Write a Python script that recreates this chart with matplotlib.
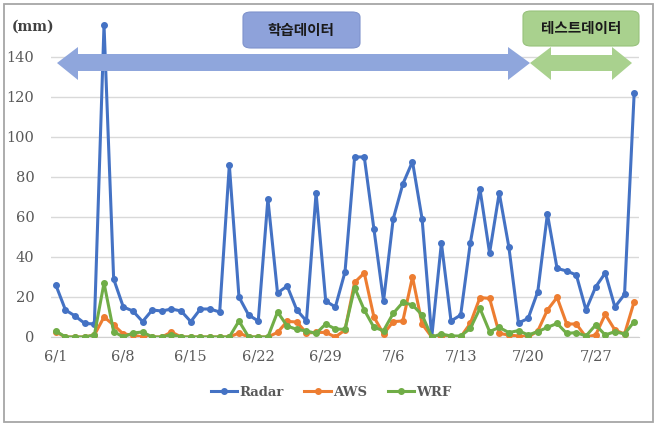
import numpy as np
import matplotlib
matplotlib.use("Agg")
import matplotlib.pyplot as plt
from matplotlib.patches import FancyBboxPatch, Polygon, Rectangle

# daily values 6/1 .. 7/31 (mm)
dates = [f"6/{d}" for d in range(1, 31)] + [f"7/{d}" for d in range(1, 32)]
radar = [26, 13.5, 10.5, 6.8, 6.5, 156, 29, 15, 13, 7.7,
         13.5, 13, 14, 13, 7.7, 14, 14, 12.5, 86, 20,
         11, 8, 69, 22, 25.5, 13.5, 8, 72, 18, 15,
         32.5, 90, 90, 54, 18, 59, 76.5, 87.7, 59, 0,
         47, 8, 11, 47, 74, 42, 72, 45, 7, 9.3,
         22.7, 61.5, 34.3, 33, 31, 13.5, 25, 32, 15, 21.3,
         122]
aws = [2.5, 0, 0, 0, 1, 10, 6, 1.5, 1, 0,
       0, 0, 2.5, 0, 0, 0, 0, 0, 0, 2,
       0, 0, 0, 2.3, 7.8, 7.5, 2, 2.3, 2.3, 0,
       3.5, 27.3, 32, 10, 1.5, 7.7, 8, 30, 6.5, 0,
       0, 0, 0, 6.8, 19.7, 19.3, 1.8, 1, 0.5, 0,
       3, 13.5, 19.8, 6.5, 6.5, 0, 1, 11.3, 3.5, 1.5,
       17.7]
wrf = [3, 0, 0, 0, 1, 27, 2.7, 0, 2, 2.5,
       0, 0, 1.2, 0, 0, 0, 0, 0, 0, 8,
       0, 0, 0, 12.5, 5.5, 3.8, 3, 1.8, 6.5, 4,
       3.8, 24.7, 13.5, 4.8, 3.2, 11.8, 17.3, 16, 11, 0,
       1.5, 0.5, 0.5, 4.3, 14.3, 2.7, 4.8, 2.2, 3.2, 1,
       2.7, 4.8, 6.8, 1.8, 2.2, 0.5, 6, 1, 2.7, 1.5,
       7.7]
yticks = [0, 20, 40, 60, 80, 100, 120, 140]

W, H = 660, 428
fig = plt.figure(figsize=(W / 100, H / 100), dpi=100)
ax = fig.add_axes([51 / W, 1 - 337 / H, (639 - 51) / W, 320 / H])

x = np.arange(len(dates))
serif = "DejaVu Serif"
ax.plot(x, radar, color="#4472C4", lw=2.2, marker="o", ms=4, label="Radar", zorder=3)
ax.plot(x, aws, color="#ED7D31", lw=2.2, marker="o", ms=4, label="AWS", zorder=4)
ax.plot(x, wrf, color="#70AD47", lw=2.2, marker="o", ms=4, label="WRF", zorder=5)

ax.set_xlim(-0.5, len(dates) - 0.5)
ax.set_ylim(0, 160)
ax.set_yticks(yticks)
ax.set_xticks(x[::7])
ax.set_xticklabels(dates[::7])
ax.grid(axis="y", color="#D9D9D9", lw=1)
ax.set_axisbelow(True)
for s in ["top", "right", "left"]:
    ax.spines[s].set_visible(False)
ax.spines["bottom"].set_color("#D0D0D0")
ax.tick_params(length=0, labelsize=10.5, labelcolor="#595959")
ax.tick_params(axis="y", pad=12)
ax.tick_params(axis="x", pad=9)
for lab in ax.get_xticklabels() + ax.get_yticklabels():
    lab.set_family(serif)

leg = ax.legend(loc="center", bbox_to_anchor=(331 / W, 1 - 392 / H),
                bbox_transform=fig.transFigure, ncol=3, frameon=False,
                prop={"family": serif, "size": 9.5, "weight": "bold"},
                handlelength=2.0, columnspacing=1.6, handletextpad=0.15)
for t in leg.get_texts():
    t.set_color("#595959")

fig.text(12 / W, 1 - 27 / H, "(mm)", family=serif, size=10, color="#404040",
         weight="bold", va="center")


def px(pts):
    return [(a / W, 1 - b / H) for a, b in pts]


# training data arrow (double headed)
blue_arrow = [(57, 63), (78, 47), (78, 54), (508, 54), (508, 47), (530, 63),
              (508, 80), (508, 71), (78, 71), (78, 80)]
fig.patches.append(Polygon(px(blue_arrow), closed=True, transform=fig.transFigure,
                           facecolor="#8FA6DC", edgecolor="none", zorder=6))
green_arrow = [(530, 63), (551, 47), (551, 55), (612, 55), (612, 47), (632, 63),
               (612, 80), (612, 71), (551, 71), (551, 80)]
fig.patches.append(Polygon(px(green_arrow), closed=True, transform=fig.transFigure,
                           facecolor="#A9D18E", edgecolor="none", zorder=6))

fig.patches.append(FancyBboxPatch((243 / W, 1 - 48 / H), 117 / W, 36 / H,
                                  boxstyle="round,pad=0,rounding_size=0.012",
                                  transform=fig.transFigure, facecolor="#8EA2DA",
                                  edgecolor="#7F93CC", lw=0.8, zorder=6))
fig.patches.append(FancyBboxPatch((523 / W, 1 - 46 / H), 116 / W, 35 / H,
                                  boxstyle="round,pad=0,rounding_size=0.012",
                                  transform=fig.transFigure, facecolor="#A9D18E",
                                  edgecolor="#98C27C", lw=0.8, zorder=6))
kfont = ["Noto Sans CJK KR", "DejaVu Sans"]
fig.text(301 / W, 1 - 30 / H, "학습데이터", family=kfont, size=10.5, weight="bold",
         color="#1a1a1a", ha="center", va="center", zorder=7)
fig.text(581 / W, 1 - 28 / H, "테스트데이터", family=kfont, size=10.5, weight="bold",
         color="#1a1a1a", ha="center", va="center", zorder=7)

fig.patches.append(Rectangle((4 / W, 1 - 422 / H), 649 / W, 418 / H,
                             transform=fig.transFigure, fill=False,
                             edgecolor="#A6A6A6", lw=1.3, zorder=0))

fig.savefig("out.png", dpi=100)
